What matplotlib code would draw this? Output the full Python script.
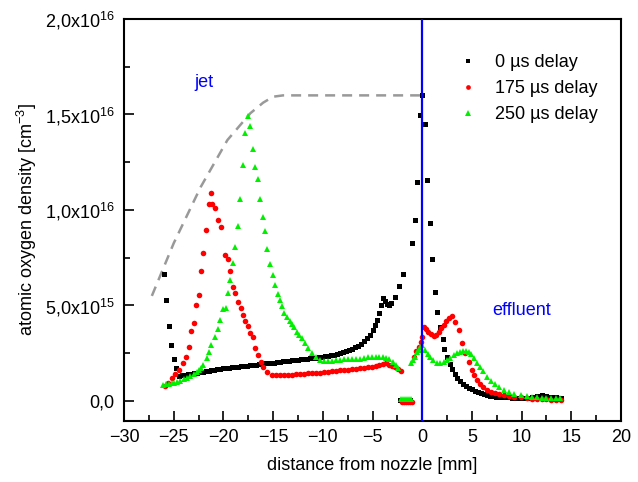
import matplotlib
matplotlib.use('Agg')
import matplotlib.pyplot as plt
from matplotlib.ticker import FixedLocator, MultipleLocator

plt.rcParams['font.family'] = ['Liberation Sans', 'DejaVu Sans']
plt.rcParams['mathtext.fontset'] = 'custom'
plt.rcParams['mathtext.rm'] = 'Liberation Sans'

# 0 us delay (units of 1e16 cm^-3)
x_0us = [-26.0, -25.8, -25.5, -25.25, -25.0, -24.8,
         -24.5, -24.2, -23.9, -23.6, -23.3, -23.0, -22.7, -22.4, -22.1, -21.8,
         -21.5, -21.2, -20.9, -20.6, -20.3, -20.0, -19.7, -19.4, -19.1, -18.8,
         -18.5, -18.2, -17.9, -17.6, -17.3, -17.0, -16.7, -16.4, -16.1, -15.8,
         -15.5, -15.2, -14.9, -14.6, -14.3, -14.0, -13.7, -13.4, -13.1, -12.8,
         -12.5, -12.2, -11.9, -11.6, -11.3, -11.0, -10.7, -10.4, -10.1, -9.8,
         -9.5, -9.2, -8.9, -8.6, -8.3, -8.0, -7.7, -7.4, -7.1, -6.8,
         -6.5, -6.2, -5.9, -5.6, -5.3, -5.0, -4.75, -4.5, -4.3, -4.1,
         -3.9, -3.7, -3.5, -3.3, -3.1, -2.7, -2.3, -1.95,
         -2.2, -2.0, -1.8, -1.6, -1.4, -1.25,
         -1.0, -0.74, -0.5, -0.27, 0.0, 0.23, 0.5, 0.77, 1.0, 1.27,
         1.5, 1.74, 2.05, 2.2, 2.5, 2.75, 3.0, 3.25, 3.5, 3.8,
         4.1, 4.4, 4.7, 5.0, 5.3, 5.6, 5.9, 6.2, 6.5, 6.8,
         7.1, 7.4, 7.7, 8.0, 8.5, 9.0, 9.5, 10.0, 10.5, 11.0,
         11.5, 12.0, 12.5, 13.0, 13.5, 14.0]
y_0us = [0.667, 0.53, 0.393, 0.293, 0.22, 0.17,
         0.130, 0.135, 0.137, 0.140, 0.142, 0.145, 0.147, 0.150, 0.152, 0.155,
         0.157, 0.160, 0.162, 0.165, 0.167, 0.170, 0.172, 0.174, 0.176, 0.178,
         0.180, 0.182, 0.183, 0.185, 0.187, 0.188, 0.190, 0.192, 0.194, 0.196,
         0.198, 0.200, 0.201, 0.203, 0.205, 0.207, 0.208, 0.210, 0.212, 0.214,
         0.216, 0.218, 0.220, 0.222, 0.223, 0.225, 0.227, 0.229, 0.231, 0.234,
         0.236, 0.239, 0.242, 0.246, 0.250, 0.255, 0.260, 0.266, 0.273, 0.281,
         0.290, 0.300, 0.313, 0.328, 0.345, 0.370, 0.395, 0.425, 0.46, 0.50,
         0.54, 0.525, 0.51, 0.50, 0.515, 0.545, 0.60, 0.665,
         0.004, 0.005, 0.004, 0.005, 0.004, 0.005,
         0.826, 0.946, 1.148, 1.497, 1.60, 1.45, 1.159, 0.93, 0.745, 0.571,
         0.468, 0.389, 0.323, 0.27, 0.232, 0.195, 0.165, 0.14, 0.12, 0.105,
         0.09, 0.078, 0.068, 0.060, 0.052, 0.045, 0.040, 0.035, 0.031, 0.028,
         0.025, 0.022, 0.020, 0.019, 0.018, 0.016, 0.015, 0.014, 0.016, 0.020,
         0.026, 0.030, 0.028, 0.022, 0.018, 0.016]

# 175 us delay
x_175us = [-25.9, -25.6, -25.2, -24.9, -24.5, -24.1, -23.8, -23.5, -23.3, -23.0,
           -22.8, -22.5, -22.3, -22.1, -21.8, -21.5, -21.3, -21.1, -20.8, -20.5,
           -20.25, -19.8, -19.5, -19.3, -19.05, -18.8, -18.5, -18.25, -18.05, -17.8,
           -17.5, -17.3, -17.0, -16.8, -16.5, -16.2, -16.0, -15.6, -15.1,
           -14.7, -14.3, -13.9, -13.5, -13.1, -12.7, -12.3, -11.9, -11.5, -11.1,
           -10.7, -10.3, -9.9, -9.5, -9.1, -8.7, -8.3, -7.9, -7.5, -7.1,
           -6.7, -6.3, -5.9, -5.5, -5.1, -4.7, -4.3, -3.9, -3.6, -3.3,
           -3.0, -2.7, -2.4, -2.15,
           -2.0, -1.8, -1.6, -1.4, -1.2, -1.0,
           -0.87, -0.6, -0.37, -0.15, 0.0, 0.2, 0.4, 0.63, 0.9, 1.14,
           1.4, 1.64, 1.9, 2.15, 2.4, 2.65, 2.99, 3.3, 3.65, 4.0,
           4.3, 4.66, 5.0, 5.25, 5.5, 5.8, 6.1, 6.5, 6.9, 7.3,
           7.7, 8.2, 8.7, 9.2, 9.9, 10.5, 11.0, 11.5, 12.0, 12.5,
           13.0, 13.5, 14.0]
y_175us = [0.079, 0.095, 0.12, 0.14, 0.162, 0.197, 0.232, 0.28, 0.368, 0.407,
           0.50, 0.557, 0.68, 0.773, 0.895, 1.03, 1.089, 1.03, 1.009, 0.946,
           0.909, 0.766, 0.742, 0.682, 0.597, 0.564, 0.518, 0.485, 0.45, 0.42,
           0.393, 0.358, 0.333, 0.276, 0.241, 0.206, 0.18, 0.153, 0.136,
           0.135, 0.137, 0.134, 0.138, 0.136, 0.140, 0.142, 0.140, 0.145, 0.144,
           0.147, 0.148, 0.150, 0.152, 0.155, 0.157, 0.160, 0.162, 0.164, 0.167,
           0.169, 0.171, 0.174, 0.177, 0.180, 0.184, 0.188, 0.194, 0.197, 0.190,
           0.185, 0.180, 0.168, 0.155,
           -0.004, -0.004, -0.003, -0.004, -0.005, -0.004,
           0.232, 0.26, 0.284, 0.31, 0.337, 0.389, 0.375, 0.363, 0.35, 0.34,
           0.345, 0.363, 0.38, 0.398, 0.416, 0.433, 0.445, 0.415, 0.372, 0.302,
           0.25, 0.206, 0.162, 0.135, 0.11, 0.09, 0.075, 0.058, 0.048, 0.040,
           0.035, 0.031, 0.026, 0.022, 0.019, 0.015, 0.012, 0.010, 0.009, 0.008,
           0.007, 0.006, 0.005]

# 250 us delay
x_250us = [-26.1, -25.8, -25.5, -25.2, -25.0, -24.7, -24.4, -24.0, -23.7, -23.4,
           -23.0, -22.7, -22.5, -22.3, -22.1, -21.7, -21.45, -21.2, -20.85, -20.55,
           -20.3, -20.05, -19.75, -19.5, -19.3, -19.05, -18.8, -18.5, -18.35, -18.0,
           -17.8, -17.55, -17.3, -17.0, -16.8, -16.55, -16.3, -16.05, -15.8, -15.6,
           -15.3, -15.05, -14.8, -14.55, -14.3, -14.1, -13.9, -13.6, -13.35, -13.1,
           -12.9, -12.6, -12.35, -12.1, -11.8, -11.45, -11.1, -10.7, -10.3, -9.9,
           -9.5, -9.1, -8.7, -8.3, -7.9, -7.5, -7.1, -6.7, -6.3, -5.9,
           -5.5, -5.1, -4.7, -4.3, -3.9, -3.6, -3.3, -2.9, -2.6, -2.4,
           -2.1, -1.9, -1.7, -1.5, -1.3, -1.1,
           -1.14, -0.9, -0.7, -0.5, -0.37, -0.2, 0.0, 0.3, 0.55, 0.8,
           1.1, 1.5, 1.8, 2.15, 2.5, 2.8, 3.2, 3.5, 3.8, 4.15,
           4.4, 4.66, 4.9, 5.2, 5.5, 5.8, 6.1, 6.5, 6.9, 7.3,
           7.7, 8.2, 8.7, 9.2, 9.9, 10.5, 11.0, 11.5, 12.0, 12.5,
           13.0, 13.5, 13.9]
y_250us = [0.084, 0.088, 0.090, 0.094, 0.096, 0.100, 0.105, 0.114, 0.122, 0.130,
           0.141, 0.152, 0.162, 0.175, 0.188, 0.223, 0.258, 0.293, 0.333, 0.375,
           0.424, 0.48, 0.488, 0.564, 0.634, 0.72, 0.805, 0.916, 1.056, 1.234,
           1.405, 1.492, 1.441, 1.321, 1.224, 1.162, 1.056, 0.965, 0.888, 0.796,
           0.716, 0.658, 0.607, 0.558, 0.529, 0.497, 0.459, 0.441, 0.42, 0.403,
           0.389, 0.363, 0.345, 0.328, 0.302, 0.276, 0.253, 0.229, 0.215, 0.210,
           0.208, 0.210, 0.213, 0.215, 0.217, 0.218, 0.220, 0.221, 0.222, 0.225,
           0.229, 0.228, 0.230, 0.229, 0.229, 0.225, 0.218, 0.206, 0.19, 0.171,
           0.010, 0.012, 0.011, 0.012, 0.011, 0.010,
           0.197, 0.215, 0.232, 0.255, 0.267, 0.28, 0.293, 0.267, 0.245, 0.232,
           0.215, 0.197, 0.20, 0.206, 0.215, 0.223, 0.238, 0.25, 0.257, 0.263,
           0.262, 0.258, 0.245, 0.223, 0.20, 0.18, 0.158, 0.127, 0.105, 0.087,
           0.072, 0.058, 0.047, 0.038, 0.031, 0.026, 0.022, 0.019, 0.017, 0.016,
           0.015, 0.014, 0.014]

# grey dashed guide
x_guide = [-27.2, -25.0, -22.3, -19.6, -17.3, -16.0, -15.0, -14.0, 0.0]
y_guide = [0.55, 0.826, 1.119, 1.366, 1.506, 1.562, 1.593, 1.60, 1.60]

scale = 1e16

fig = plt.figure(figsize=(6.38, 4.82), dpi=100)
ax = fig.add_axes([0.1944, 0.1266, 0.779, 0.834])

ax.plot(x_guide, [v * scale for v in y_guide],
        color='#999999', lw=1.8, dashes=(4, 2.8), zorder=1)
ax.axvline(0, color='#0000ff', lw=1.6, zorder=5)

ax.plot(x_0us, [v * scale for v in y_0us], 's', color='black', ms=3.6,
        mew=0, label='0 µs delay', zorder=2)
ax.plot(x_175us, [v * scale for v in y_175us], 'o', color='#ff0000', ms=4.0,
        mew=0, label='175 µs delay', zorder=3)
ax.plot(x_250us, [v * scale for v in y_250us], '^', color='#00f000', ms=4.5,
        mew=0, label='250 µs delay', zorder=4)

ax.set_xlim(-30, 20)
ax.set_ylim(-0.105e16, 2.0e16)
ax.xaxis.set_major_locator(MultipleLocator(5))
ax.xaxis.set_minor_locator(MultipleLocator(2.5))
ax.yaxis.set_major_locator(FixedLocator([0, 0.5e16, 1.0e16, 1.5e16, 2.0e16]))
ax.yaxis.set_minor_locator(FixedLocator([0.25e16, 0.75e16, 1.25e16, 1.75e16]))
ax.set_yticklabels(['0,0', r'5,0x10$^{15}$', r'1,0x10$^{16}$',
                    r'1,5x10$^{16}$', r'2,0x10$^{16}$'])

ax.tick_params(which='both', direction='in', top=False, right=False,
               labelsize=13, width=1.2)
ax.tick_params(which='major', length=7)
ax.tick_params(which='minor', length=4)
ax.tick_params(axis='y', pad=7)
ax.tick_params(axis='x', pad=6)
for s in ax.spines.values():
    s.set_linewidth(1.5)

ax.set_xlabel('distance from nozzle [mm]', fontsize=13, labelpad=8)
ax.set_ylabel(r'atomic oxygen density [cm$^{-3}$]', fontsize=13, labelpad=4)

ax.text(-22.0, 1.665e16, 'jet', color='#0000ff', fontsize=13, ha='center', va='center')
ax.text(10.0, 0.476e16, 'effluent', color='#0000ff', fontsize=13, ha='center', va='center')

ax.legend(loc='upper left', bbox_to_anchor=(0.674, 0.912), frameon=False,
          fontsize=13, handlelength=1.0, handletextpad=1.0, labelspacing=0.5,
          borderpad=0, borderaxespad=0, markerscale=0.85)

fig.savefig('out.png', dpi=100)
